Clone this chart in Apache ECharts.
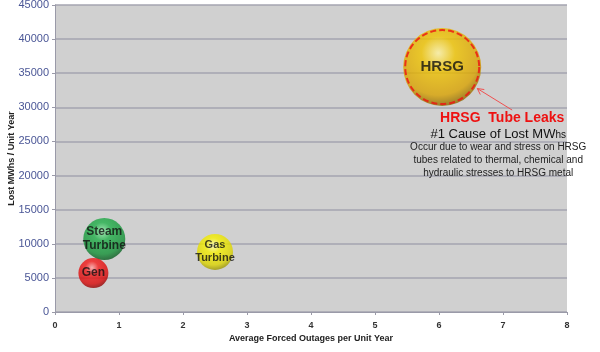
<!DOCTYPE html>
<html>
<head>
<meta charset="utf-8">
<script src="https://cdn.jsdelivr.net/npm/echarts@6/dist/echarts.min.js"></script>
<style>
html,body{margin:0;padding:0;background:#fff;}
#main{width:600px;height:352px;}
</style>
</head>
<body>
<div id="main"></div>
<script>
// bubble data: name, x (outages), y (lost MWhs), bubble size
var names = ['HRSG', 'Steam\nTurbine', 'Gas\nTurbine', 'Gen'];
var outages = [6.05, 0.77, 2.5, 0.6];
var lostMWhs = [35900, 10700, 8800, 5700];
var sizes = [78, 42, 36, 30];
var labelSizes = [15, 12, 11, 12];
var colors = [
	['#fff3a0', '#f0c400', '#d9a200', '#7a5800'],
	['#9aeeb0', '#22b04a', '#139036', '#064a18'],
	['#ffffb0', '#f6f000', '#dcd400', '#8a8400'],
	['#ffa8a8', '#f41a1a', '#d80808', '#780000']
];
var xTicks = [0, 1, 2, 3, 4, 5, 6, 7, 8];
var yTicks = [0, 5000, 10000, 15000, 20000, 25000, 30000, 35000, 40000, 45000];

function bubbleColor(c){
	return new echarts.graphic.RadialGradient(0.45, 0.32, 0.72, [
		{offset: 0, color: c[0]},
		{offset: 0.3, color: c[1]},
		{offset: 0.75, color: c[2]},
		{offset: 1, color: c[3]}
	]);
}

var bubbleData = [];
for(var i=0;i<names.length;i++){
	bubbleData.push({
		name: names[i],
		value: [outages[i], lostMWhs[i], sizes[i]],
		itemStyle: {color: bubbleColor(colors[i])},
		label: {fontSize: labelSizes[i], lineHeight: labelSizes[i] + 2}
	});
}

var myChart = echarts.init(document.getElementById('main'));
var option = {
	animation: false,
	grid: {left: 55, right: 33, top: 5, bottom: 40, containLabel: false, outerBoundsMode: 'none',
		backgroundColor: '#d0d0d0', show: true, borderWidth: 0},
	xAxis: {
		type: 'value', min: 0, max: 8, interval: 1,
		name: 'Average Forced Outages per Unit Year',
		nameLocation: 'middle', nameGap: 22, nameMoveOverlap: false,
		nameTextStyle: {fontFamily: 'Liberation Sans', fontWeight: 'bold', fontSize: 9, color: '#222'},
		axisLine: {show: true, lineStyle: {color: '#9a9aa8'}},
		axisTick: {show: true, length: 3, lineStyle: {color: '#9a9aa8'}},
		axisLabel: {fontFamily: 'Liberation Sans', fontWeight: 'bold', fontSize: 9, color: '#333', margin: 9},
		splitLine: {show: false}
	},
	yAxis: {
		type: 'value', min: 0, max: 45000, interval: 5000,
		name: 'Lost MWhs / Unit Year',
		nameLocation: 'middle', nameGap: 39, nameMoveOverlap: false,
		nameTextStyle: {fontFamily: 'Liberation Sans', fontWeight: 'bold', fontSize: 9, color: '#222'},
		axisLine: {show: true, lineStyle: {color: '#9a9aa8'}},
		axisTick: {show: true, length: 3, lineStyle: {color: '#9a9aa8'}},
		axisLabel: {fontFamily: 'Liberation Sans', fontSize: 11, color: '#4a5696', margin: 6,
			formatter: function(v){ return String(v); }},
		splitLine: {show: true, lineStyle: {color: '#a4a4b0', width: 1.5}}
	},
	series: [{
		type: 'scatter',
		data: bubbleData,
		symbolSize: function(v){ return v[2]; },
		label: {
			show: true, position: 'inside',
			formatter: '{b}',
			fontFamily: 'Liberation Sans', fontWeight: 'bold', fontSize: 12, color: '#111'
		},
		z: 3
	}, {
		// dashed outline marking the HRSG bubble
		type: 'scatter',
		data: [[outages[0], lostMWhs[0]]],
		symbolSize: sizes[0] - 4,
		itemStyle: {color: 'transparent', borderColor: '#ee1111', borderWidth: 2, borderType: [6, 3]},
		z: 4,
		silent: true
	}]
};
myChart.setOption(option);

// annotation anchored to the HRSG bubble
var c = myChart.convertToPixel({gridIndex: 0}, [outages[0], lostMWhs[0]]);
var r = sizes[0] / 2;
var tx = c[0] + 60, ty = c[1] + 43;
var ax = c[0] + r * 0.9, ay = c[1] + r * 0.55;
myChart.setOption({
	graphic: [
		{type: 'line', shape: {x1: c[0] + 70, y1: c[1] + 43, x2: ax, y2: ay},
			style: {stroke: '#f05050', lineWidth: 1}, z: 10},
		{type: 'polyline', shape: {points: [[ax + 7, ay + 1], [ax, ay], [ax + 3, ay + 6]]},
			style: {stroke: '#f05050', lineWidth: 1, fill: null}, z: 10},
		{type: 'text', x: tx, y: ty + 8, style: {text: 'HRSG  Tube Leaks', fontFamily: 'Liberation Sans', fontWeight: 'bold', fontSize: 14, fill: '#ee1111', align: 'center', verticalAlign: 'middle'}, z: 10},
		{type: 'text', x: tx - 4, y: ty + 24, style: {
			text: '#1 Cause of Lost MW{s|hs}',
			rich: {s: {fontFamily: 'Liberation Sans', fontSize: 10, fill: '#111', verticalAlign: 'bottom', padding: [3, 0, 0, 0]}},
			fontFamily: 'Liberation Sans', fontSize: 13, fill: '#111', align: 'center', verticalAlign: 'middle'}, z: 10},
		{type: 'text', x: tx - 4, y: ty + 50, style: {text: 'Occur due to wear and stress on HRSG\ntubes related to thermal, chemical and\nhydraulic stresses to HRSG metal', fontFamily: 'Liberation Sans', fontSize: 10, lineHeight: 13, fill: '#222', align: 'center', verticalAlign: 'middle'}, z: 10}
	]
});
</script>
</body>
</html>
